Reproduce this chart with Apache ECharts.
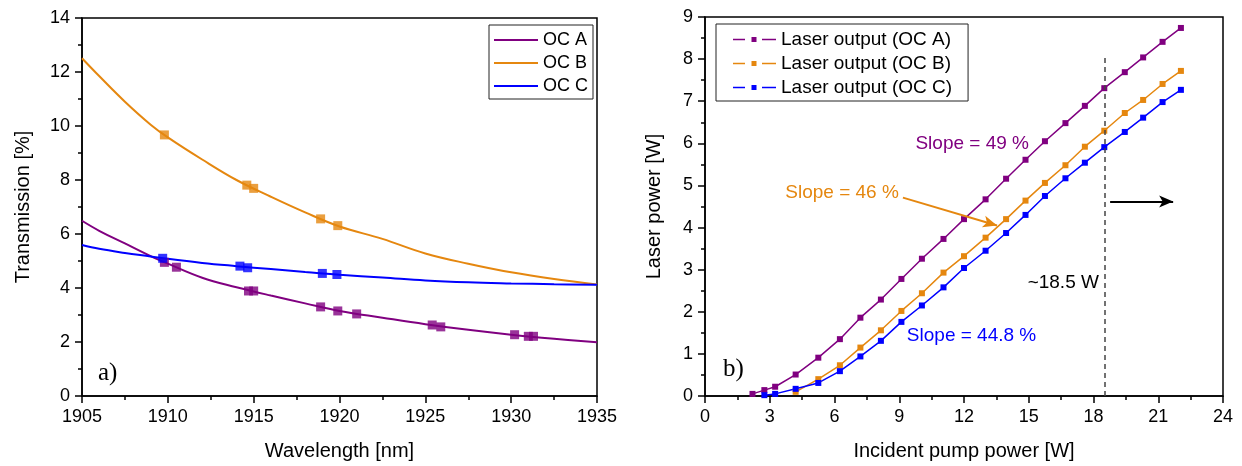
<!DOCTYPE html>
<html>
<head>
<meta charset="utf-8">
<script src="https://cdn.jsdelivr.net/npm/echarts@6/dist/echarts.min.js"></script>
<style>
html,body{margin:0;padding:0;background:#fff;}
#chart{width:1242px;height:466px;}
</style>
</head>
<body>
<div id="chart"></div>
<script>
// ---- Panel a) : transmission curves ----
const wlCurve = [1905, 1906, 1907.5, 1909, 1910, 1912, 1914, 1916, 1918, 1920, 1922.5, 1925, 1927.5, 1930, 1932.5, 1935];
const curveA = [6.49, 6.12, 5.65, 5.18, 4.90, 4.38, 4.03, 3.72, 3.43, 3.15, 2.90, 2.66, 2.45, 2.27, 2.12, 1.99];
const curveB = [12.51, 11.85, 10.90, 10.05, 9.58, 8.76, 8.00, 7.38, 6.80, 6.28, 5.82, 5.28, 4.90, 4.58, 4.33, 4.13];
const curveC = [5.59, 5.45, 5.30, 5.17, 5.08, 4.93, 4.81, 4.70, 4.59, 4.49, 4.39, 4.28, 4.21, 4.17, 4.14, 4.12];
// measured points
const measWlA = [1909.8, 1910.5, 1914.7, 1915.0, 1918.9, 1919.9, 1921.0, 1925.4, 1925.9, 1930.2, 1931.0, 1931.3];
const measA   = [4.95, 4.77, 3.89, 3.89, 3.30, 3.15, 3.04, 2.63, 2.56, 2.27, 2.21, 2.21];
const measWlB = [1909.8, 1914.6, 1915.0, 1918.9, 1919.9];
const measB   = [9.67, 7.81, 7.69, 6.56, 6.31];
const measWlC = [1909.7, 1914.2, 1914.65, 1919.0, 1919.85];
const measC   = [5.10, 4.81, 4.75, 4.54, 4.50];
const legendA = ['OC A', 'OC B', 'OC C'];

// ---- Panel b) : laser output ----
const pumpA = [2.2, 2.75, 3.25, 4.2, 5.25, 6.25, 7.2, 8.15, 9.1, 10.05, 11.05, 12.0, 13.0, 13.95, 14.85, 15.75, 16.7, 17.6, 18.5, 19.45, 20.3, 21.2, 22.05];
const outA  = [0.05, 0.14, 0.22, 0.51, 0.91, 1.35, 1.86, 2.29, 2.78, 3.26, 3.73, 4.20, 4.67, 5.16, 5.61, 6.05, 6.48, 6.89, 7.31, 7.69, 8.04, 8.41, 8.74];
const pumpB = [4.2, 5.25, 6.25, 7.2, 8.15, 9.1, 10.05, 11.05, 12.0, 13.0, 13.95, 14.85, 15.75, 16.7, 17.6, 18.5, 19.45, 20.3, 21.2, 22.05];
const outB  = [0.10, 0.40, 0.73, 1.15, 1.56, 2.02, 2.44, 2.93, 3.32, 3.76, 4.20, 4.64, 5.06, 5.48, 5.92, 6.30, 6.72, 7.03, 7.41, 7.72];
const pumpC = [2.75, 3.25, 4.2, 5.25, 6.25, 7.2, 8.15, 9.1, 10.05, 11.05, 12.0, 13.0, 13.95, 14.85, 15.75, 16.7, 17.6, 18.5, 19.45, 20.3, 21.2, 22.05];
const outC  = [0.02, 0.05, 0.17, 0.31, 0.59, 0.94, 1.31, 1.76, 2.15, 2.58, 3.04, 3.45, 3.87, 4.30, 4.75, 5.17, 5.54, 5.91, 6.27, 6.61, 6.98, 7.27];
const legendB = ['Laser output (OC A)', 'Laser output (OC B)', 'Laser output (OC C)'];

// annotations (text, centre x, centre y in data units of panel b)
const annoText = ['Slope = 49 %', 'Slope = 46 %', 'Slope = 44.8 %', '~18.5 W'];
const annoX = [12.38, 6.35, 12.35, 16.6];
const annoY = [6.0, 4.83, 1.42, 2.68];
const thresholdPump = 18.5;
const thresholdTop = 8.08;
const slopeArrowFrom = [9.17, 4.71];
const slopeArrowTo = [13.53, 4.05];
const rightArrowFrom = [18.77, 4.62];
const rightArrowTo = [21.69, 4.62];

const PURPLE = '#800080', ORANGE = '#E5870F', BLUE = '#0000FF';
const annoColors = [PURPLE, ORANGE, BLUE, '#000'];
const FONT = 'Liberation Sans, Arial, sans-serif';
const LEG_B_ICON = 'path://M0,2.25h12v1.5H0z M18.5,0.5h5v5h-5z M29,2.25h14v1.5H29z';

function zip(xs, ys){ return xs.map((x,i)=>[x, ys[i]]); }

const axisCommon = {
  axisLine:{show:true, onZero:false, lineStyle:{color:'#000', width:1.5}},
  axisTick:{show:true, inside:false, length:7, lineStyle:{color:'#000', width:1.5}},
  minorTick:{show:true, splitNumber:2, length:4, lineStyle:{color:'#000', width:1.5}},
  splitLine:{show:false},
  axisLabel:{color:'#000', fontSize:18, fontFamily:FONT, margin:12, formatter:(v)=>String(v)},
  nameTextStyle:{color:'#000', fontSize:20, fontFamily:FONT},
  nameLocation:'middle'
};

const chart = echarts.init(document.getElementById('chart'), null, {renderer:'canvas'});
const option = {
  animation:false,
  backgroundColor:'#fff',
  grid:[
    {left:82, top:18, width:515, height:378, show:true, borderColor:'#000', borderWidth:1.5, backgroundColor:'transparent'},
    {left:705, top:17, width:518, height:380, show:true, borderColor:'#000', borderWidth:1.5, backgroundColor:'transparent'}
  ],
  xAxis:[
    Object.assign({}, axisCommon, {type:'value', gridIndex:0, min:1905, max:1935, interval:5, name:'Wavelength [nm]', nameGap:45}),
    Object.assign({}, axisCommon, {type:'value', gridIndex:1, min:0, max:24, interval:3, name:'Incident pump power [W]', nameGap:45})
  ],
  yAxis:[
    Object.assign({}, axisCommon, {type:'value', gridIndex:0, min:0, max:14, interval:2, name:'Transmission [%]', nameGap:49}),
    Object.assign({}, axisCommon, {type:'value', gridIndex:1, min:0, max:9, interval:1, name:'Laser power [W]', nameGap:41})
  ],
  legend:[
    {data:legendA.map(n=>({name:n, icon:'rect'})), orient:'vertical', left:489, top:25, itemWidth:44, itemHeight:2, itemGap:5,
     padding:[6,5,4,5], borderColor:'#222', borderWidth:1, backgroundColor:'#fff',
     textStyle:{color:'#000', fontSize:18, fontFamily:FONT, lineHeight:18}},
    {data:legendB.map(n=>({name:n, icon:LEG_B_ICON})), orient:'vertical', left:716, top:24, itemWidth:43, itemHeight:6, itemGap:5,
     padding:[6,16,4,17], borderColor:'#222', borderWidth:1, backgroundColor:'#fff',
     textStyle:{color:'#000', fontSize:19, fontFamily:FONT, lineHeight:18}}
  ],
  series:[
    {name:'OC A', type:'line', xAxisIndex:0, yAxisIndex:0, smooth:0.4, symbol:'none', data:zip(wlCurve, curveA), lineStyle:{color:PURPLE, width:2}, itemStyle:{color:PURPLE}, z:3},
    {name:'OC B', type:'line', xAxisIndex:0, yAxisIndex:0, smooth:0.4, symbol:'none', data:zip(wlCurve, curveB), lineStyle:{color:ORANGE, width:2}, itemStyle:{color:ORANGE}, z:3},
    {name:'OC C', type:'line', xAxisIndex:0, yAxisIndex:0, smooth:0.4, symbol:'none', data:zip(wlCurve, curveC), lineStyle:{color:BLUE, width:2}, itemStyle:{color:BLUE}, z:3},
    {name:'mA', type:'scatter', xAxisIndex:0, yAxisIndex:0, symbol:'rect', symbolSize:9, data:zip(measWlA, measA), itemStyle:{color:PURPLE}, z:4},
    {name:'mB', type:'scatter', xAxisIndex:0, yAxisIndex:0, symbol:'rect', symbolSize:9, data:zip(measWlB, measB), itemStyle:{color:ORANGE}, z:4},
    {name:'mC', type:'scatter', xAxisIndex:0, yAxisIndex:0, symbol:'rect', symbolSize:9, data:zip(measWlC, measC), itemStyle:{color:BLUE}, z:5},

    {name:legendB[0], type:'line', xAxisIndex:1, yAxisIndex:1, symbol:'rect', symbolSize:6, showSymbol:true, data:zip(pumpA, outA), lineStyle:{color:PURPLE, width:1.5}, itemStyle:{color:PURPLE}},
    {name:legendB[1], type:'line', xAxisIndex:1, yAxisIndex:1, symbol:'rect', symbolSize:6, showSymbol:true, data:zip(pumpB, outB), lineStyle:{color:ORANGE, width:1.5}, itemStyle:{color:ORANGE}},
    {name:legendB[2], type:'line', xAxisIndex:1, yAxisIndex:1, symbol:'rect', symbolSize:6, showSymbol:true, data:zip(pumpC, outC), lineStyle:{color:BLUE, width:1.5}, itemStyle:{color:BLUE}},

    {name:'marks', type:'line', xAxisIndex:1, yAxisIndex:1, data:[], silent:true,
     markLine:{silent:true, animation:false, label:{show:false},
       data:[
         [{coord:[thresholdPump,0], symbol:'none', lineStyle:{color:'#444', width:1.5, type:[5,4]}},
          {coord:[thresholdPump,thresholdTop], symbol:'none'}],
         [{coord:slopeArrowFrom, symbol:'none', lineStyle:{color:ORANGE, width:2, type:'solid'}},
          {coord:slopeArrowTo, symbol:'arrow', symbolSize:[9,14]}],
         [{coord:rightArrowFrom, symbol:'none', lineStyle:{color:'#000', width:2, type:'solid'}},
          {coord:rightArrowTo, symbol:'arrow', symbolSize:[9,14]}]
       ]}
    }
  ]
};
chart.setOption(option);

const gfx = [
  {type:'text', left:98, top:361, style:{text:'a)', font:'25px "Liberation Serif", serif', fill:'#000'}},
  {type:'text', left:723, top:357, style:{text:'b)', font:'25px "Liberation Serif", serif', fill:'#000'}}
];
annoText.forEach((t,i)=>{
  const p = chart.convertToPixel({xAxisIndex:1, yAxisIndex:1}, [annoX[i], annoY[i]]);
  gfx.push({type:'text', x:p[0], y:p[1], z:10,
    style:{text:t, fill:annoColors[i], font:'19px ' + FONT, textAlign:'center', textVerticalAlign:'middle'}});
});
chart.setOption({graphic:gfx});
</script>
</body>
</html>
